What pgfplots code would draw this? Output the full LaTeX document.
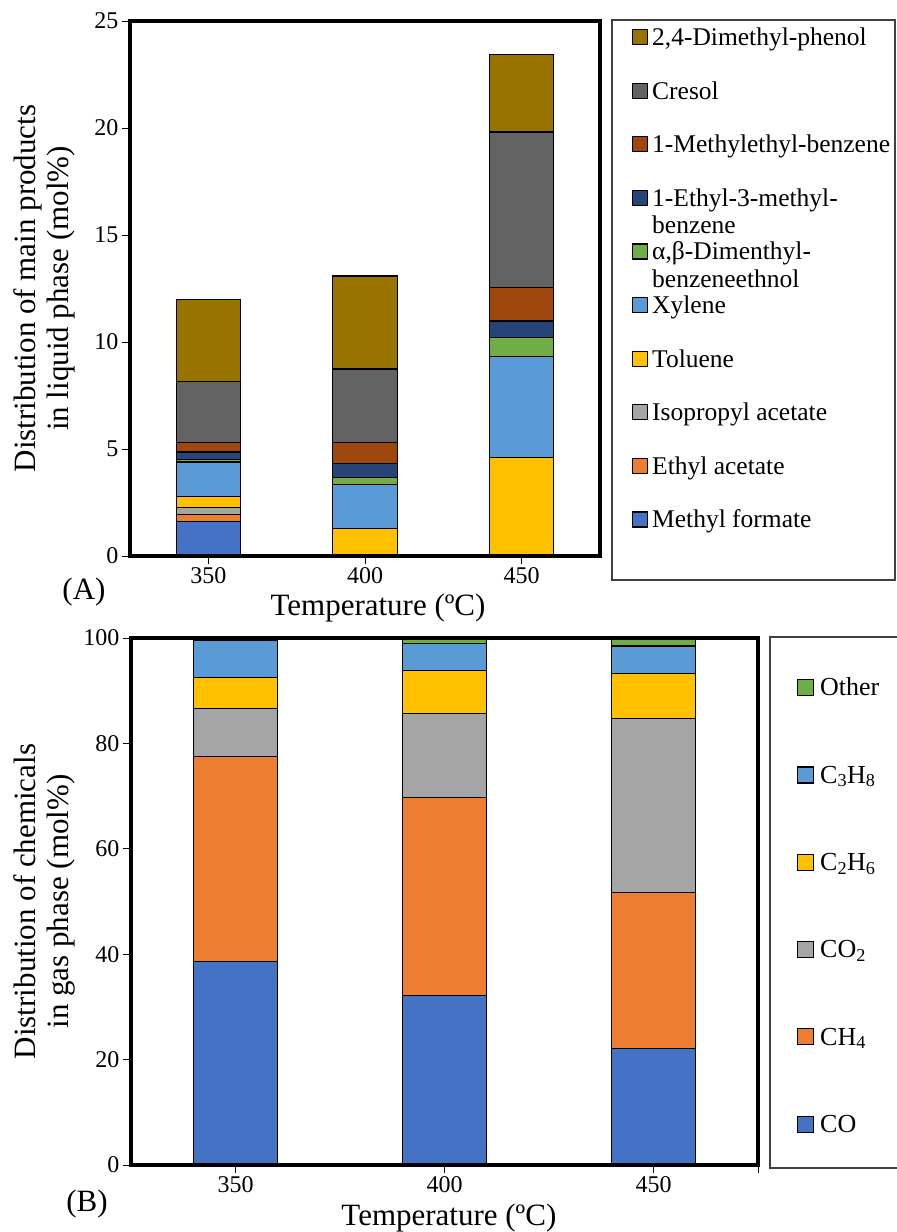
\documentclass[border=0pt]{standalone}
\usepackage{fontspec}
\setmainfont{Liberation Serif}
\usepackage{pgfplots}
\pgfplotsset{compat=1.18}

\definecolor{cBlue}{HTML}{4472C4}
\definecolor{cOrange}{HTML}{ED7D31}
\definecolor{cGray}{HTML}{A5A5A5}
\definecolor{cYellow}{HTML}{FFC000}
\definecolor{cLBlue}{HTML}{5B9BD5}
\definecolor{cGreen}{HTML}{70AD47}
\definecolor{cDBlue}{HTML}{264478}
\definecolor{cBrown}{HTML}{9E480E}
\definecolor{cDGray}{HTML}{636363}
\definecolor{cOlive}{HTML}{997300}

\newcommand{\tickfont}{\fontsize{24}{24}\selectfont}
\newcommand{\labfont}{\fontsize{31}{33}\selectfont}
\newcommand{\legfont}{\fontsize{25.5}{27.5}\selectfont}
\newcommand{\legfontb}{\fontsize{26}{28}\selectfont}

\pgfplotsset{
  sqA/.style={fill=#1, draw=black, line width=1.2pt,
    legend image code/.code={\draw[##1,line width=1.2pt] (0pt,0.8pt) rectangle (15pt,15.8pt);}},
  sqB/.style={fill=#1, draw=black, line width=1.2pt,
    legend image code/.code={\draw[##1,line width=1.2pt] (0pt,0.3pt) rectangle (16pt,16.3pt);}},
  common/.style={
    scale only axis,
    ybar stacked,
    xmin=-0.5, xmax=2.5, ymin=0,
    xtick={0,1,2}, xticklabels={350,400,450},
    tick align=outside, tick pos=left,
    major tick length=8pt,
    tick style={black, line width=1pt},
    axis line style={line width=4.5pt, black},
    axis on top,
    ticklabel style={font=\tickfont},
    /pgf/number format/assume math mode=true,
    label style={font=\labfont},
    reverse legend,
  }
}

\begin{document}
\begin{tikzpicture}[x=1pt,y=1pt]
\path[use as bounding box] (0,0) rectangle (897,-1232);

% ---------------- (A) liquid phase ----------------
\begin{axis}[common,
  at={(130pt,-556pt)}, anchor=south west,
  width=470pt, height=535pt,
  ymax=25, ytick={0,5,10,15,20,25},
  bar width=0.41,
  xlabel={Temperature (ºC)},
  xlabel style={at={(axis description cs:0.5277,-0.0972)}, anchor=center},
  ylabel={Distribution of main products\\in liquid phase (mol\%)},
  ylabel style={at={(axis description cs:-0.1819,0.5)}, anchor=center, align=center, rotate=0},
  legend style={at={(1.06809,0.98505)}, anchor=north west, draw=none, fill=none,
    inner sep=0pt, outer sep=0pt, font=\legfont,
    nodes={inner sep=0pt, text height=16pt, text depth=5pt},
    cells={anchor=base west},
    column sep=4pt, row sep=32.2pt},
]
\addplot[sqA=cBlue]   coordinates {(0,1.60) (1,0) (2,0)};
\addlegendentry{Methyl formate}
\addplot[sqA=cOrange] coordinates {(0,0.35) (1,0) (2,0)};
\addlegendentry{Ethyl acetate}
\addplot[sqA=cGray]   coordinates {(0,0.31) (1,0) (2,0)};
\addlegendentry{Isopropyl acetate}
\addplot[sqA=cYellow] coordinates {(0,0.51) (1,1.28) (2,4.59)};
\addlegendentry{Toluene}
\addplot[sqA=cLBlue]  coordinates {(0,1.62) (1,2.07) (2,4.72)};
\addlegendentry{Xylene}
\addplot[sqA=cGreen]  coordinates {(0,0.13) (1,0.33) (2,0.91)};
\addlegendentry{\begin{tabular}[t]{@{}l@{}}α,β-Dimenthyl-\\benzeneethnol\end{tabular}}
\addplot[sqA=cDBlue]  coordinates {(0,0.34) (1,0.65) (2,0.76)};
\addlegendentry{\begin{tabular}[t]{@{}l@{}}1-Ethyl-3-methyl-\\benzene\end{tabular}}
\addplot[sqA=cBrown]  coordinates {(0,0.44) (1,0.97) (2,1.56)};
\addlegendentry{1-Methylethyl-benzene}
\addplot[sqA=cDGray]  coordinates {(0,2.85) (1,3.44) (2,7.27)};
\addlegendentry{Cresol}
\addplot[sqA=cOlive]  coordinates {(0,3.85) (1,4.34) (2,3.62)};
\addlegendentry{2,4-Dimethyl-phenol}
\end{axis}
\draw[black!75, line width=1.2pt] (612,-20) rectangle (895,-580);
\node[font=\labfont] at (84,-592) {(A)};

% ---------------- (B) gas phase ----------------
\begin{axis}[common,
  at={(131pt,-1165pt)}, anchor=south west,
  width=627pt, height=527pt,
  ymax=100, ytick={0,20,40,60,80,100},
  bar width=0.40,
  extra x ticks={2.5}, extra x tick labels={},
  xlabel={Temperature (ºC)},
  xlabel style={at={(axis description cs:0.507,-0.1006)}, anchor=center},
  ylabel={Distribution of chemicals\\in gas phase (mol\%)},
  ylabel style={at={(axis description cs:-0.1380,0.5)}, anchor=center, align=center, rotate=0},
  legend style={at={(1.06220,0.92220)}, anchor=north west, draw=none, fill=none,
    inner sep=0pt, outer sep=0pt, font=\legfontb,
    nodes={inner sep=0pt, text height=16pt, text depth=5pt},
    cells={anchor=base west},
    column sep=6pt, row sep=65.4pt},
]
\addplot[sqB=cBlue]   coordinates {(0,38.6) (1,32.2) (2,22.1)};
\addlegendentry{CO}
\addplot[sqB=cOrange] coordinates {(0,38.9) (1,37.6) (2,29.6)};
\addlegendentry{CH\textsubscript{4}}
\addplot[sqB=cGray]   coordinates {(0,9.2) (1,15.9) (2,33.1)};
\addlegendentry{CO\textsubscript{2}}
\addplot[sqB=cYellow] coordinates {(0,5.8) (1,8.1) (2,8.5)};
\addlegendentry{C\textsubscript{2}H\textsubscript{6}}
\addplot[sqB=cLBlue]  coordinates {(0,7.0) (1,5.1) (2,5.2)};
\addlegendentry{C\textsubscript{3}H\textsubscript{8}}
\addplot[sqB=cGreen]  coordinates {(0,0.5) (1,1.1) (2,1.5)};
\addlegendentry{Other}
\end{axis}
\draw[black!75, line width=1.2pt] (770,-637) rectangle (900,-1168);
\node[font=\labfont] at (87,-1204) {(B)};
\end{tikzpicture}
\end{document}
